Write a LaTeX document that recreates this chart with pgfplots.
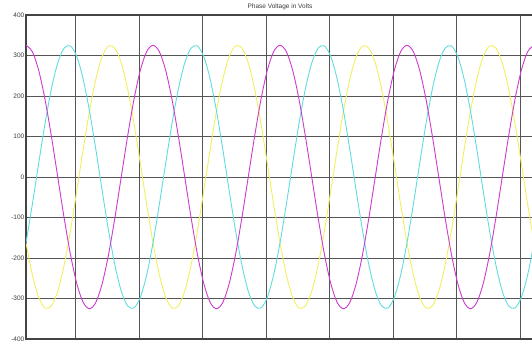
\documentclass[border=0pt]{standalone}
\usepackage{pgfplots}
\pgfplotsset{compat=1.18}
\usepackage{pgfplotstable}
\usepackage{fontspec}
\setmainfont{Liberation Sans}
\definecolor{phm}{RGB}{205,60,205}
\definecolor{phc}{RGB}{95,220,222}
\definecolor{phy}{RGB}{240,240,95}
\definecolor{gridc}{RGB}{85,85,85}
\pgfplotstableread{
t m c y
0 325.3 -162.7 -162.7
1 309.4 -67.6 -241.7
2 263.2 34.0 -297.2
3 191.2 132.3 -323.5
4 100.5 217.7 -318.2
5 0 281.7 -281.7
6 -100.5 318.2 -217.7
7 -191.2 323.5 -132.3
8 -263.2 297.2 -34.0
9 -309.4 241.7 67.6
10 -325.3 162.7 162.7
11 -309.4 67.6 241.7
12 -263.2 -34.0 297.2
13 -191.2 -132.3 323.5
14 -100.5 -217.7 318.2
15 0 -281.7 281.7
16 100.5 -318.2 217.7
17 191.2 -323.5 132.3
18 263.2 -297.2 34.0
19 309.4 -241.7 -67.6
20 325.3 -162.7 -162.7
21 309.4 -67.6 -241.7
22 263.2 34.0 -297.2
23 191.2 132.3 -323.5
24 100.5 217.7 -318.2
25 0 281.7 -281.7
26 -100.5 318.2 -217.7
27 -191.2 323.5 -132.3
28 -263.2 297.2 -34.0
29 -309.4 241.7 67.6
30 -325.3 162.7 162.7
31 -309.4 67.6 241.7
32 -263.2 -34.0 297.2
33 -191.2 -132.3 323.5
34 -100.5 -217.7 318.2
35 0 -281.7 281.7
36 100.5 -318.2 217.7
37 191.2 -323.5 132.3
38 263.2 -297.2 34.0
39 309.4 -241.7 -67.6
40 325.3 -162.7 -162.7
41 309.4 -67.6 -241.7
42 263.2 34.0 -297.2
43 191.2 132.3 -323.5
44 100.5 217.7 -318.2
45 0 281.7 -281.7
46 -100.5 318.2 -217.7
47 -191.2 323.5 -132.3
48 -263.2 297.2 -34.0
49 -309.4 241.7 67.6
50 -325.3 162.7 162.7
51 -309.4 67.6 241.7
52 -263.2 -34.0 297.2
53 -191.2 -132.3 323.5
54 -100.5 -217.7 318.2
55 0 -281.7 281.7
56 100.5 -318.2 217.7
57 191.2 -323.5 132.3
58 263.2 -297.2 34.0
59 309.4 -241.7 -67.6
60 325.3 -162.7 -162.7
61 309.4 -67.6 -241.7
62 263.2 34.0 -297.2
63 191.2 132.3 -323.5
64 100.5 217.7 -318.2
65 0 281.7 -281.7
66 -100.5 318.2 -217.7
67 -191.2 323.5 -132.3
68 -263.2 297.2 -34.0
69 -309.4 241.7 67.6
70 -325.3 162.7 162.7
71 -309.4 67.6 241.7
72 -263.2 -34.0 297.2
73 -191.2 -132.3 323.5
74 -100.5 -217.7 318.2
75 0 -281.7 281.7
76 100.5 -318.2 217.7
77 191.2 -323.5 132.3
78 263.2 -297.2 34.0
79 309.4 -241.7 -67.6
80 325.3 -162.7 -162.7
}\phasedata
\begin{document}
\begin{tikzpicture}
\useasboundingbox (0,0) rectangle (532pt,347pt);
\begin{axis}[
  at={(26pt,8pt)}, anchor=south west,
  scale only axis, width=508pt, height=324pt,
  xmin=0, xmax=80, ymin=-400, ymax=400,
  xtick={7.8,17.8,27.8,37.8,47.8,57.8,67.8,77.8},
  xticklabels={},
  ytick={-400,-300,-200,-100,0,100,200,300,400},
  major tick length=0pt,
  grid=major,
  major grid style={gridc, line width=0.9pt},
  axis line style={gridc!80!black, line width=1.3pt},
  /pgf/number format/assume math mode=true,
  yticklabel style={font=\fontsize{6.5}{7}\selectfont, text=gridc!70!black, inner sep=1.5pt},
  title={Phase Voltage in Volts},
  title style={font=\fontsize{6.5}{7}\selectfont, text=gridc!70!black, at={(0.5,1)}, anchor=south, yshift=-1pt, inner sep=0pt},
  every axis plot/.append style={line width=0.9pt, smooth},
]
\addplot[phy] table[x=t, y=y] {\phasedata};
\addplot[phc] table[x=t, y=c] {\phasedata};
\addplot[phm] table[x=t, y=m] {\phasedata};
\end{axis}
\end{tikzpicture}
\end{document}
